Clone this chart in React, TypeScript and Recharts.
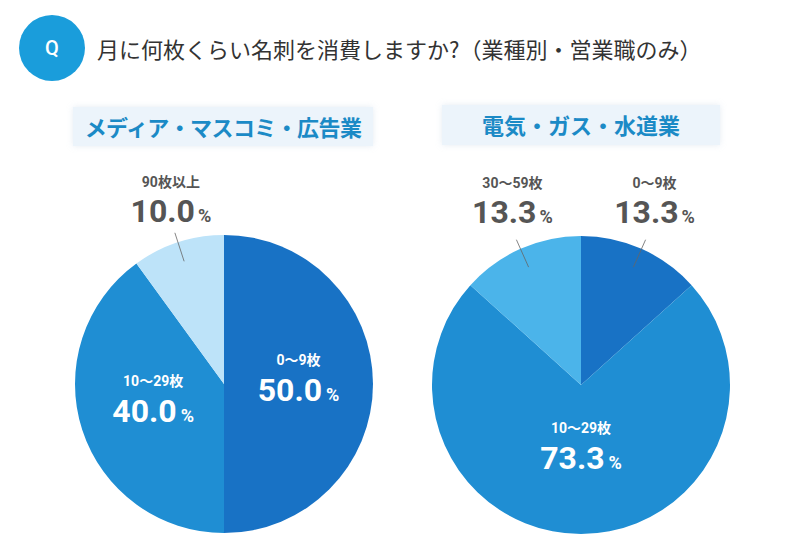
import React from 'react';
import { PieChart, Pie, Cell } from 'recharts';

// 名刺の月間消費枚数（業種別・営業職のみ）
const mediaLabels = ['0〜9枚', '10〜29枚', '90枚以上'];
const mediaValues = [50.0, 40.0, 10.0];
const mediaColors = ['#1872c5', '#1f8ed3', '#bde3f9'];

const utilityLabels = ['0〜9枚', '10〜29枚', '30〜59枚'];
const utilityValues = [13.3, 73.3, 13.3];
const utilityColors = ['#1872c5', '#1f8ed3', '#4bb4ea'];

const mediaData = mediaLabels.map((name, i) => ({ name, value: mediaValues[i] }));
const utilityData = utilityLabels.map((name, i) => ({ name, value: utilityValues[i] }));

const RAD = Math.PI / 180;
const NUM_FONT = 'Roboto, "Noto Sans CJK JP", sans-serif';

// big slices get their label inside, small ones get a leader line and a label above
const renderLabel = (p: any) => {
  const { cx, cy, midAngle, outerRadius, value } = p;
  const name = p.payload?.name ?? p.name;
  const cos = Math.cos(-midAngle * RAD);
  const sin = Math.sin(-midAngle * RAD);
  const pct = Number(value).toFixed(1);

  if (value >= 20) {
    const x = cx + outerRadius * 0.5 * cos;
    const y = cy + outerRadius * 0.45 * sin - 5;
    return (
      <g>
        <text x={x} y={y - 14} textAnchor="middle" fill="#fff" fontSize={14} fontWeight={700} fontFamily={NUM_FONT}>
          {name}
        </text>
        <text x={x} y={y + 22} textAnchor="middle" fill="#fff" fontSize={32} fontWeight={700} fontFamily={NUM_FONT}>
          {pct}
          <tspan fontSize={18} dx={4}>%</tspan>
        </text>
      </g>
    );
  }

  const x1 = cx + (outerRadius - 20) * cos;
  const y1 = cy + (outerRadius - 20) * sin;
  const x2 = cx + (outerRadius + 10) * cos;
  const y2 = cy + (outerRadius + 10) * sin;
  const tx = x2 + (cos > 0 ? 9 : -4);
  const top = cy - outerRadius;
  return (
    <g>
      <line x1={x1} y1={y1} x2={x2} y2={y2} stroke="#666" strokeWidth={0.8} />
      <text x={tx} y={top - 48} textAnchor="middle" fill="#555" fontSize={14} fontWeight={700} fontFamily={NUM_FONT}>
        {name}
      </text>
      <text x={tx} y={top - 13} textAnchor="middle" fill="#555" fontSize={32} fontWeight={700} fontFamily={NUM_FONT}>
        {pct}
        <tspan fontSize={18} dx={3}>%</tspan>
      </text>
    </g>
  );
};

const boxStyle: React.CSSProperties = {
  position: 'absolute',
  background: '#ecf4fb',
  color: '#1b8ac6',
  fontFamily: '"Noto Sans CJK JP", sans-serif',
  fontWeight: 700,
  fontSize: 22,
  textAlign: 'center',
  lineHeight: '39px',
  boxShadow: '0 0 6px rgba(180,200,220,0.35)',
};

export default function App() {
  return (
    <div style={{ position: 'absolute', left: 0, top: 0, width: 800, height: 560, background: '#fff', overflow: 'hidden' }}>
      <div
        style={{
          position: 'absolute', left: 19, top: 15, width: 66, height: 66, borderRadius: '50%',
          background: '#1a9ddb', color: '#fff', fontFamily: 'Roboto, sans-serif', fontSize: 20,
          fontWeight: 500, textAlign: 'center', lineHeight: '66px',
        }}
      >
        Q
      </div>
      <div
        style={{
          position: 'absolute', left: 97, top: 33, fontFamily: '"Noto Sans CJK JP", sans-serif',
          fontSize: 22, color: '#333', lineHeight: '30px', whiteSpace: 'nowrap',
        }}
      >
        月に何枚くらい名刺を消費しますか?（業種別・営業職のみ）
      </div>

      <div style={{ ...boxStyle, left: 73, top: 107, width: 300, height: 39, letterSpacing: -0.6 }}>
        メディア・マスコミ・広告業
      </div>
      <div style={{ ...boxStyle, left: 442, top: 105, width: 278, height: 40 }}>
        電気・ガス・水道業
      </div>

      <div style={{ position: 'absolute', left: 0, top: 0 }}>
        <PieChart width={800} height={560} margin={{ top: 0, right: 0, bottom: 0, left: 0 }}>
          <Pie
            data={mediaData}
            dataKey="value"
            nameKey="name"
            cx={224}
            cy={384}
            outerRadius={149}
            startAngle={90}
            endAngle={-270}
            stroke="none"
            label={renderLabel}
            labelLine={false}
            isAnimationActive={false}
          >
            {mediaData.map((_, i) => (
              <Cell key={i} fill={mediaColors[i]} />
            ))}
          </Pie>
          <Pie
            data={utilityData}
            dataKey="value"
            nameKey="name"
            cx={581}
            cy={385}
            outerRadius={149}
            startAngle={90}
            endAngle={-270}
            stroke="none"
            label={renderLabel}
            labelLine={false}
            isAnimationActive={false}
          >
            {utilityData.map((_, i) => (
              <Cell key={i} fill={utilityColors[i]} />
            ))}
          </Pie>
        </PieChart>
      </div>
    </div>
  );
}
